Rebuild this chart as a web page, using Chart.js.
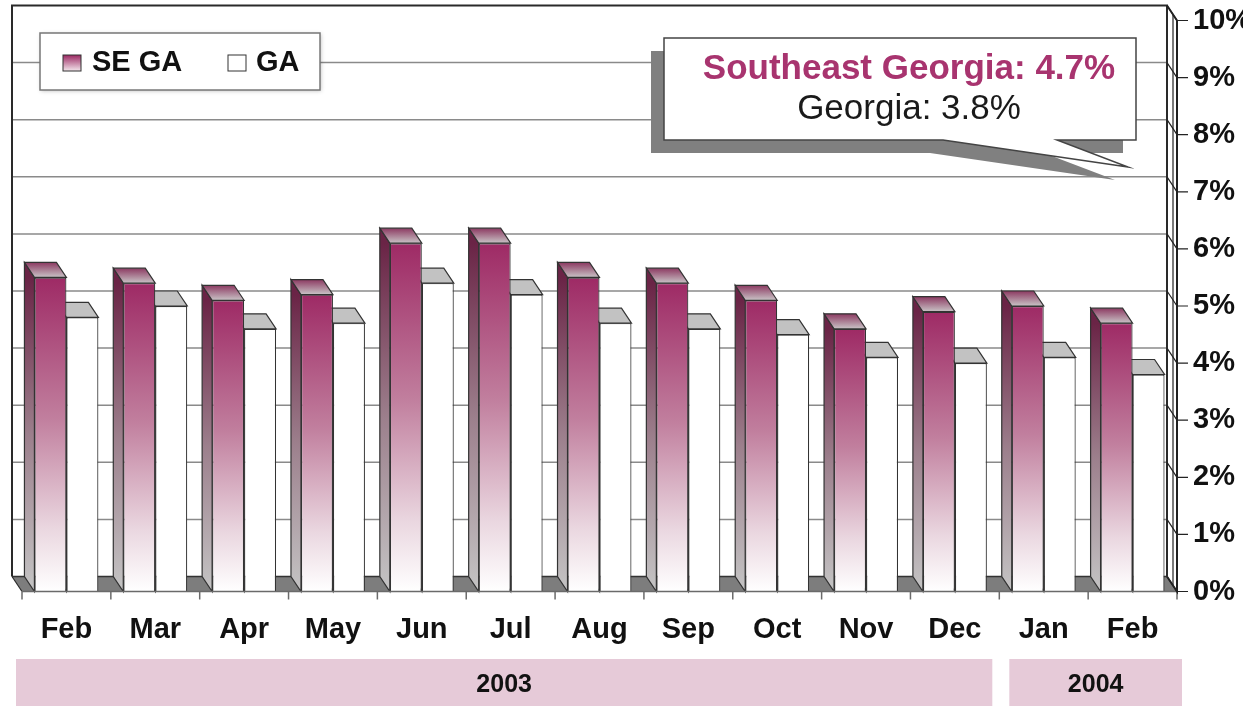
<!DOCTYPE html>
<html>
<head>
<meta charset="utf-8">
<script src="https://cdn.jsdelivr.net/npm/chart.js@4.4.1/dist/chart.umd.min.js"></script>
<style>
  html, body { margin: 0; padding: 0; background: #fff; }
</style>
</head>
<body>
<canvas id="grafico" width="1243" height="706"></canvas>
<script>
// Datos del gráfico
const meses = ['Feb', 'Mar', 'Apr', 'May', 'Jun', 'Jul', 'Aug', 'Sep', 'Oct', 'Nov', 'Dec', 'Jan', 'Feb'];
const seGa = [5.5, 5.4, 5.1, 5.2, 6.1, 6.1, 5.5, 5.4, 5.1, 4.6, 4.9, 5.0, 4.7];
const ga = [4.8, 5.0, 4.6, 4.7, 5.4, 5.2, 4.7, 4.6, 4.5, 4.1, 4.0, 4.1, 3.8];
const anios = ['2003', '2004'];
const anioDesde = [0, 11];
const anioHasta = [10, 12];
const etiquetas = ['SE GA', 'GA'];
const nombresCallout = ['Southeast Georgia', 'Georgia'];

// Constantes de estilo
const FUENTE = '"Liberation Sans", Arial, Helvetica, sans-serif';
const DX = 10;   // profundidad 3D
const DY = 15;
const GRANATE = '#A8346F';

function degradadoSe(context) {
    const chart = context.chart;
    const { ctx, chartArea, scales } = chart;
    if (!chartArea || context.type !== 'data') return '#9A2860';
    const top = scales.y.getPixelForValue(context.raw);
    const bottom = scales.y.getPixelForValue(0);
    const g = ctx.createLinearGradient(0, top, 0, bottom);
    g.addColorStop(0, '#9E2A65');
    g.addColorStop(0.45, '#C17F9E');
    g.addColorStop(0.8, '#EAD7E0');
    g.addColorStop(1, '#FFFFFF');
    return g;
}

function poligono(ctx, pts, fill, stroke) {
    ctx.beginPath();
    ctx.moveTo(pts[0][0], pts[0][1]);
    for (let i = 1; i < pts.length; i++) ctx.lineTo(pts[i][0], pts[i][1]);
    ctx.closePath();
    if (fill) { ctx.fillStyle = fill; ctx.fill(); }
    if (stroke) { ctx.strokeStyle = stroke; ctx.lineWidth = 1.2; ctx.stroke(); }
}

// Plugin para el efecto 3D, marco, leyenda y llamada
const efecto3d = {
    id: 'efecto3d',
    beforeDatasetsDraw(chart) {
        const { ctx, chartArea: a, scales: { y } } = chart;
        const base = y.getPixelForValue(0);
        ctx.save();

        // piso
        poligono(ctx, [[a.left - DX, base - DY], [a.right - DX, base - DY], [a.right, base], [a.left, base]], '#7d7d7d', null);
        ctx.strokeStyle = '#333';
        ctx.lineWidth = 1.5;
        ctx.beginPath();
        ctx.moveTo(a.left - DX, base - DY);
        ctx.lineTo(a.right - DX, base - DY);
        ctx.stroke();

        // líneas de la pared del fondo
        ctx.strokeStyle = '#8a8a8a';
        ctx.lineWidth = 1.5;
        for (let v = 1; v < 10; v++) {
            const yy = y.getPixelForValue(v) - DY;
            ctx.beginPath();
            ctx.moveTo(a.left - DX, yy);
            ctx.lineTo(a.right - DX, yy);
            ctx.stroke();
        }

        // marco: izquierda, arriba
        const top = y.getPixelForValue(10) - DY;
        ctx.strokeStyle = '#2a2a2a';
        ctx.lineWidth = 2;
        ctx.beginPath();
        ctx.moveTo(a.left - DX, base - DY);
        ctx.lineTo(a.left - DX, top);
        ctx.lineTo(a.right - DX, top);
        ctx.lineTo(a.right - DX, base - DY);
        ctx.stroke();
        ctx.beginPath();
        ctx.moveTo(a.left - DX, base - DY);
        ctx.lineTo(a.left, base);
        ctx.lineWidth = 1.2;
        ctx.stroke();

        // caras laterales y superiores de las barras
        chart.data.datasets.forEach((ds, i) => {
            const meta = chart.getDatasetMeta(i);
            meta.data.forEach(bar => {
                const p = bar.getProps(['x', 'y', 'base', 'width'], true);
                const l = p.x - p.width / 2, r = p.x + p.width / 2;
                let gLado = ctx.createLinearGradient(0, p.y, 0, p.base);
                let gTapa = ctx.createLinearGradient(0, p.y - DY, 0, p.y);
                if (i === 0) {
                    gLado.addColorStop(0, '#6A2446');
                    gLado.addColorStop(0.5, '#9C7F8C');
                    gLado.addColorStop(1, '#C4C4C4');
                    gTapa.addColorStop(0, '#8C3A62');
                    gTapa.addColorStop(1, '#C9C3C6');
                } else {
                    gLado = '#c2c2c2';
                    gTapa = '#c2c2c2';
                }
                poligono(ctx, [[l, p.y], [l - DX, p.y - DY], [l - DX, p.base - DY], [l, p.base]], gLado, '#333');
                poligono(ctx, [[l, p.y], [r, p.y], [r - DX, p.y - DY], [l - DX, p.y - DY]], gTapa, '#333');
            });
        });
        ctx.restore();
    },
    afterDatasetsDraw(chart) {
        const { ctx, chartArea: a, scales: { x, y } } = chart;
        const base = y.getPixelForValue(0);
        ctx.save();

        // línea frontal del piso y marcas del eje x
        ctx.strokeStyle = '#6a6a6a';
        ctx.lineWidth = 1.5;
        ctx.beginPath();
        ctx.moveTo(a.left, base);
        ctx.lineTo(a.right, base);
        ctx.stroke();
        const paso = x.getPixelForValue(1) - x.getPixelForValue(0);
        for (let i = 0; i <= meses.length; i++) {
            const xx = x.getPixelForValue(0) - paso / 2 + i * paso;
            ctx.beginPath();
            ctx.moveTo(xx, base);
            ctx.lineTo(xx, base + 8);
            ctx.stroke();
        }

        // pared derecha y marcas del eje y
        const top = y.getPixelForValue(10);
        ctx.strokeStyle = '#222';
        ctx.lineWidth = 2;
        ctx.beginPath();
        ctx.moveTo(a.right - DX, top - DY);
        ctx.lineTo(a.right, top);
        ctx.lineTo(a.right, base);
        ctx.lineTo(a.right - DX, base - DY);
        ctx.stroke();
        ctx.beginPath();
        ctx.moveTo(a.right - 4, top - 6);
        ctx.lineTo(a.right - 4, base - 6);
        ctx.lineWidth = 1.2;
        ctx.stroke();
        for (let v = 0; v <= 10; v++) {
            const yy = y.getPixelForValue(v);
            ctx.beginPath();
            ctx.moveTo(a.right - DX, yy - DY);
            ctx.lineTo(a.right, yy);
            ctx.lineTo(a.right + 11, yy);
            ctx.stroke();
        }
        ctx.restore();
    },
    afterDraw(chart) {
        const { ctx, scales: { x } } = chart;
        ctx.save();

        // bandas de años
        const paso = x.getPixelForValue(1) - x.getPixelForValue(0);
        anios.forEach((anio, i) => {
            const x0 = x.getPixelForValue(anioDesde[i]) - paso / 2 + (i === 0 ? -6 : 10);
            const x1 = x.getPixelForValue(anioHasta[i]) + paso / 2 + (i === anios.length - 1 ? 5 : -7);
            ctx.fillStyle = '#E6CAD8';
            ctx.fillRect(x0, 659, x1 - x0, 47);
            ctx.fillStyle = '#111';
            ctx.font = 'bold 25px ' + FUENTE;
            ctx.textAlign = 'center';
            ctx.textBaseline = 'middle';
            ctx.fillText(anio, (x0 + x1) / 2, 685);
        });

        // leyenda
        ctx.shadowColor = 'rgba(0,0,0,0.25)';
        ctx.shadowBlur = 4;
        ctx.shadowOffsetX = 1;
        ctx.shadowOffsetY = 1;
        ctx.fillStyle = '#fff';
        ctx.fillRect(40, 33, 280, 57);
        ctx.shadowColor = 'transparent';
        ctx.strokeStyle = '#777';
        ctx.lineWidth = 1.5;
        ctx.strokeRect(40, 33, 280, 57);

        const gLey = ctx.createLinearGradient(0, 55, 0, 71);
        gLey.addColorStop(0, '#9B2862');
        gLey.addColorStop(1, '#F3E6EC');
        ctx.fillStyle = gLey;
        ctx.fillRect(63, 55, 18, 16);
        ctx.strokeStyle = '#333';
        ctx.lineWidth = 1;
        ctx.strokeRect(63, 55, 18, 16);
        ctx.fillStyle = '#fff';
        ctx.fillRect(228, 55, 18, 16);
        ctx.strokeRect(228, 55, 18, 16);

        ctx.fillStyle = '#111';
        ctx.font = 'bold 29px ' + FUENTE;
        ctx.textAlign = 'left';
        ctx.textBaseline = 'middle';
        ctx.fillText(chart.data.datasets[0].label, 92, 63);
        ctx.fillText(chart.data.datasets[1].label, 256, 63);

        // llamada con último valor
        const forma = [[664, 38], [1136, 38], [1136, 140], [1057, 140], [1128, 167], [943, 140], [664, 140]];
        poligono(ctx, forma.map(pt => [pt[0] - 13, pt[1] + 13]), '#808080', null);
        poligono(ctx, forma, '#fff', null);
        ctx.strokeStyle = '#444';
        ctx.lineWidth = 1.5;
        ctx.beginPath();
        ctx.moveTo(forma[0][0], forma[0][1]);
        forma.slice(1).forEach(pt => ctx.lineTo(pt[0], pt[1]));
        ctx.closePath();
        ctx.stroke();

        const n = seGa.length - 1;
        ctx.textAlign = 'center';
        ctx.textBaseline = 'middle';
        ctx.fillStyle = GRANATE;
        ctx.font = 'bold 35px ' + FUENTE;
        ctx.fillText(nombresCallout[0] + ': ' + seGa[n].toFixed(1) + '%', 909, 69);
        ctx.fillStyle = '#1a1a1a';
        ctx.font = '35px ' + FUENTE;
        ctx.fillText(nombresCallout[1] + ': ' + ga[n].toFixed(1) + '%', 909, 109);
        ctx.restore();
    }
};

const ctx = document.getElementById('grafico').getContext('2d');

window.miGrafica = new Chart(ctx, {
    type: 'bar',
    data: {
        labels: meses,
        datasets: [{
            label: etiquetas[0],
            data: seGa,
            backgroundColor: degradadoSe,
            borderColor: '#333',
            borderWidth: 1.2,
            categoryPercentage: 0.72,
            barPercentage: 1.0
        }, {
            label: etiquetas[1],
            data: ga,
            backgroundColor: '#ffffff',
            borderColor: '#333',
            borderWidth: 1.2,
            categoryPercentage: 0.72,
            barPercentage: 1.0
        }]
    },
    options: {
        responsive: false,
        animation: false,
        devicePixelRatio: 1,
        layout: { padding: { left: 22, top: 20.5, right: 0, bottom: 0 } },
        plugins: {
            legend: { display: false },
            tooltip: { enabled: false }
        },
        scales: {
            x: {
                grid: { display: false, drawTicks: false },
                border: { display: false },
                ticks: {
                    autoSkip: false,
                    maxRotation: 0,
                    padding: 21,
                    color: '#111',
                    font: { family: FUENTE, size: 29, weight: 'bold' }
                },
                afterFit: s => { s.height = 114.5; s.paddingLeft = 0; s.paddingRight = 0; }
            },
            y: {
                position: 'right',
                min: 0,
                max: 10,
                grid: { display: false, drawTicks: false },
                border: { display: false },
                ticks: {
                    stepSize: 1,
                    padding: 16,
                    color: '#111',
                    font: { family: FUENTE, size: 29, weight: 'bold' },
                    callback: v => v + '%'
                },
                afterFit: s => { s.width = 66; s.paddingTop = 0; s.paddingBottom = 0; }
            }
        }
    },
    plugins: [efecto3d]
});
</script>
</body>
</html>
